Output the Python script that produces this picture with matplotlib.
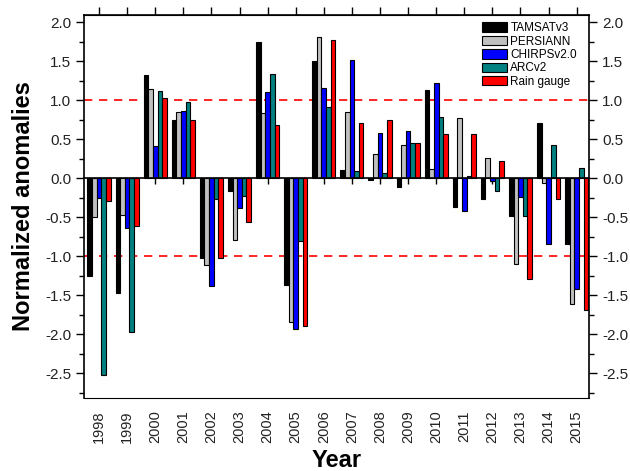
import numpy as np
import matplotlib.pyplot as plt

plt.rcParams['font.family'] = ['Liberation Sans', 'DejaVu Sans']

years = list(range(1998, 2016))
tamsat = [-1.26, -1.47, 1.32, 0.74, -1.03, -0.16, 1.74, -1.37, 1.50, 0.10, -0.03, -0.11, 1.13, -0.37, -0.27, -0.48, 0.71, -0.85]
persiann = [-0.50, -0.47, 1.14, 0.85, -1.12, -0.79, 0.84, -1.84, 1.81, 0.85, 0.31, 0.42, 0.12, 0.77, 0.26, -1.10, -0.06, -1.61]
chirps = [-0.26, -0.64, 0.41, 0.86, -1.39, -0.38, 1.10, -1.94, 1.16, 1.52, 0.58, 0.60, 1.22, -0.42, -0.04, -0.24, -0.84, -1.42]
arc = [-2.53, -1.98, 1.12, 0.98, -0.27, -0.23, 1.33, -0.81, 0.91, 0.09, 0.06, 0.45, 0.78, 0.03, -0.16, -0.48, 0.42, 0.13]
gauge = [-0.29, -0.61, 1.03, 0.75, -1.03, -0.56, 0.68, -1.90, 1.77, 0.71, 0.75, 0.45, 0.57, 0.56, 0.22, -1.30, -0.27, -1.69]

series = [tamsat, persiann, chirps, arc, gauge]
names = ['TAMSATv3', 'PERSIANN', 'CHIRPSv2.0', 'ARCv2', 'Rain gauge']
colors = ['black', '#c0c0c0', '#0000ff', '#008080', '#ff0000']

fig = plt.figure(figsize=(6.3, 4.71), dpi=100)
ax = fig.add_axes([0.134, 0.155, 0.801, 0.813])

x = np.array(years)
w = 0.165
for i, (vals, name, c) in enumerate(zip(series, names, colors)):
    ax.bar(x + (i - 2) * w, vals, w, color=c, edgecolor='black', linewidth=0.8, label=name, zorder=2)

ax.axhline(1.0, color='red', ls=(0, (5, 4)), lw=1.2, zorder=1)
ax.axhline(-1.0, color='red', ls=(0, (5, 4)), lw=1.2, zorder=1)

ax.set_xlim(1997.48, 2015.44)
ax.set_ylim(-2.82, 2.09)

# bottom spine sits at zero with small ticks pointing down
ax.spines['bottom'].set_position(('data', 0))
ax.spines['bottom'].set_zorder(3)
ax.set_xticks(years)
ax.tick_params(axis='x', direction='out', length=4, width=1, labelbottom=False)

top = ax.secondary_xaxis('top')
top.set_xticks(years)
top.tick_params(direction='out', length=6, width=1, labeltop=False)

bot = ax.secondary_xaxis(0.0)
bot.set_xticks(years)
bot.set_xticklabels([str(y) for y in years], rotation=90, fontsize=10.5, color='#222222')
bot.tick_params(length=0, pad=9)
bot.set_xlabel('Year', fontsize=17, fontweight='bold', labelpad=4)

ax.set_yticks(np.arange(-2.5, 2.01, 0.5))
ax.set_yticks(np.arange(-2.75, 2.01, 0.25), minor=True)
ax.yaxis.set_major_formatter(plt.FormatStrFormatter('%.1f'))
ax.tick_params(axis='y', which='both', direction='out', right=True, labelright=True, labelsize=11, width=1,
               labelcolor='#222222')
ax.tick_params(axis='y', which='major', length=6)
ax.tick_params(axis='y', which='minor', length=3.5)
ax.set_ylabel('Normalized anomalies', fontsize=17, fontweight='bold', labelpad=7)

for s in ax.spines.values():
    s.set_linewidth(1.2)

ax.legend(loc='upper right', frameon=False, fontsize=8.5, handlelength=2.1, handleheight=0.85,
          labelspacing=0.12, handletextpad=0.3, borderaxespad=0.2, bbox_to_anchor=(0.99, 1.0))

fig.savefig('out.png', dpi=100)
